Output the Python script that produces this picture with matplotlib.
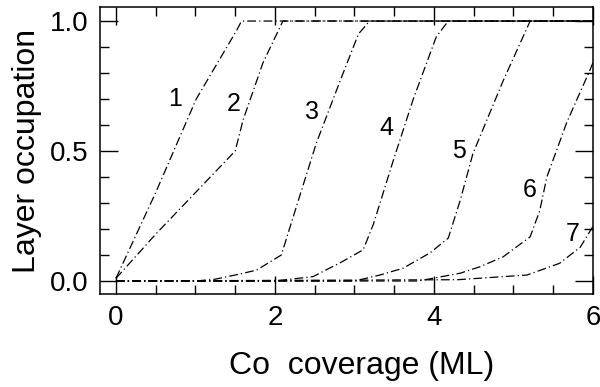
import numpy as np
import matplotlib
matplotlib.use("Agg")
import matplotlib.pyplot as plt
from matplotlib.ticker import MultipleLocator

# layer occupation vs Co coverage, layers 1..7
x1 = [0, 0.5, 1.01, 1.52, 1.58, 6]
y1 = [0.01, 0.34, 0.70, 0.965, 1.0, 1.0]

x2 = [0, 0.5, 1.0, 1.5, 1.60, 1.85, 2.10, 6]
y2 = [0.01, 0.18, 0.34, 0.50, 0.62, 0.84, 1.0, 1.0]

x3 = [0, 1.0, 1.25, 1.56, 1.77, 2.08, 2.27, 2.52, 2.82, 3.05, 3.19, 6]
y3 = [0, 0, 0.007, 0.027, 0.042, 0.10, 0.286, 0.53, 0.77, 0.95, 1.0, 1.0]

x4 = [0, 2.0, 2.48, 2.69, 2.82, 3.11, 3.24, 3.49, 3.74, 4.03, 4.18, 6]
y4 = [0, 0, 0.017, 0.05, 0.07, 0.12, 0.22, 0.465, 0.70, 0.94, 1.0, 1.0]

x5 = [0, 3.0, 3.32, 3.61, 3.95, 4.18, 4.33, 4.49, 4.87, 5.21, 6]
y5 = [0, 0, 0.023, 0.049, 0.108, 0.165, 0.31, 0.49, 0.77, 1.0, 1.0]

x6 = [0, 3.8, 4.33, 4.58, 4.87, 5.21, 5.33, 5.42, 5.67, 5.96, 6]
y6 = [0, 0, 0.03, 0.055, 0.093, 0.17, 0.27, 0.40, 0.61, 0.81, 0.84]

x7 = [0, 4.3, 5.17, 5.58, 5.84, 6]
y7 = [0, 0.005, 0.023, 0.068, 0.13, 0.21]

curve_labels = ["1", "2", "3", "4", "5", "6", "7"]
label_x = [0.74, 1.48, 2.47, 3.40, 4.31, 5.21, 5.75]
label_y = [0.70, 0.68, 0.65, 0.59, 0.50, 0.35, 0.18]

plt.rcParams["font.family"] = ["Liberation Sans", "DejaVu Sans"]

fig = plt.figure(figsize=(6, 3.87), dpi=100)
ax = fig.add_axes([0.1667, 0.2403, 0.8216, 0.7416])

dash = (0, (7, 2.5, 1, 2.5))
for xs, ys in [(x1, y1), (x2, y2), (x3, y3), (x4, y4), (x5, y5), (x6, y6), (x7, y7)]:
    ax.plot(xs, ys, color="black", lw=0.9, linestyle=dash)

for t, lx, ly in zip(curve_labels, label_x, label_y):
    ax.text(lx, ly, t, fontsize=18, ha="center", va="center")

ax.set_xlim(-0.2, 6)
ax.set_ylim(-0.05, 1.054)
ax.xaxis.set_major_locator(MultipleLocator(2))
ax.xaxis.set_minor_locator(MultipleLocator(0.5))
ax.yaxis.set_minor_locator(MultipleLocator(0.1))
ax.set_yticks([0, 0.5, 1.0])
ax.set_yticklabels(["0.0", "0.5", "1.0"])

ax.tick_params(which="both", direction="in", top=True, right=True, width=1, labelsize=20)
ax.tick_params(which="major", length=13, pad=8)
ax.tick_params(which="minor", length=6.5)
for s in ax.spines.values():
    s.set_linewidth(1.1)

ax.set_xlabel("Co  coverage (ML)", fontsize=23, labelpad=14)
ax.xaxis.label.set_x(0.53)
ax.set_ylabel("Layer occupation", fontsize=23, labelpad=6)

fig.savefig("out.png", dpi=100)
